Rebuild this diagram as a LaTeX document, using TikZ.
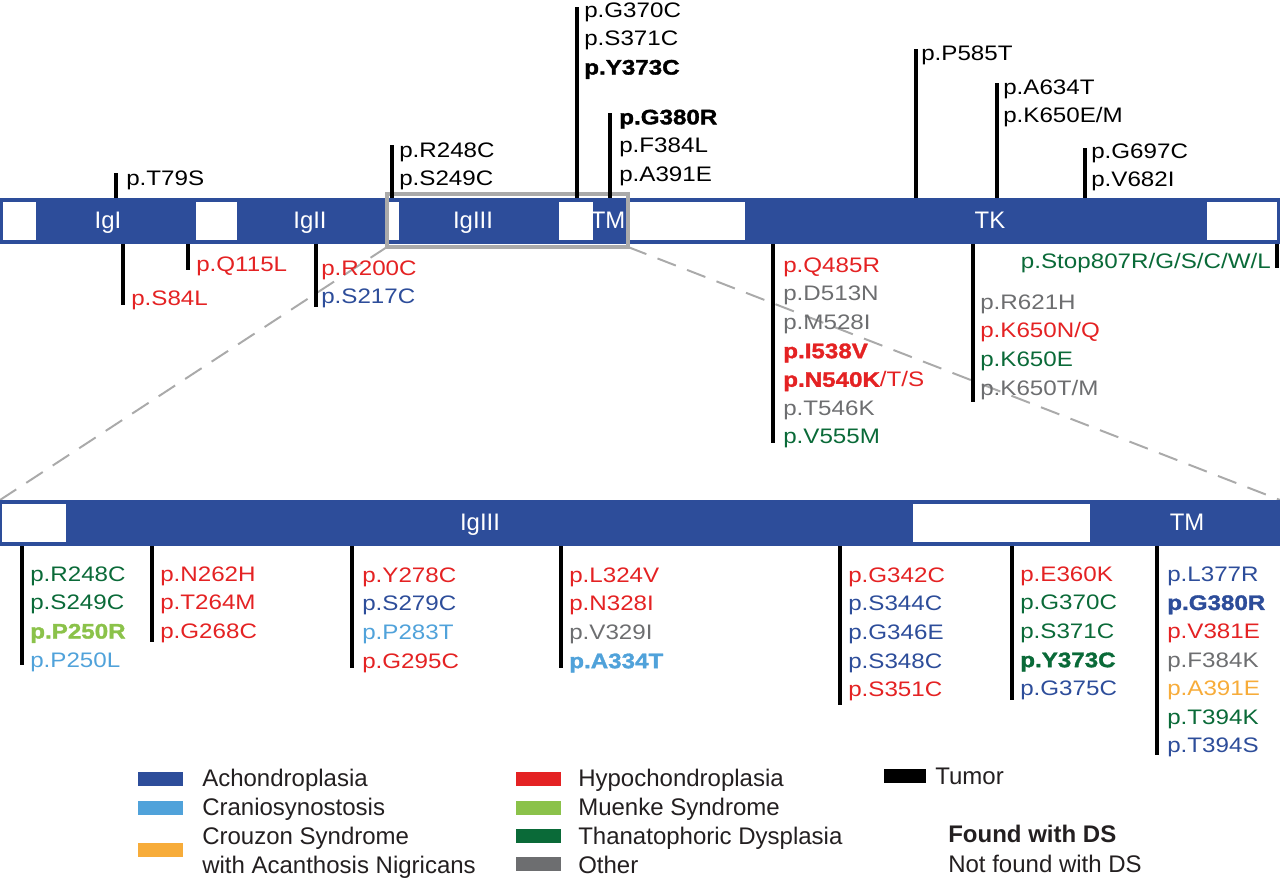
\documentclass[tikz,border=0pt]{standalone}
\usepackage{fontspec}
\setmainfont{Liberation Sans}
\newfontfamily\lblfam{Liberation Sans}[FakeStretch=1.15, BoldFeatures={FakeBold=1.5}]
\usepackage{xcolor}
\usepackage{tikz}

\definecolor{achon}{RGB}{45,77,154}
\definecolor{cranio}{RGB}{80,162,218}
\definecolor{crouzon}{RGB}{247,172,58}
\definecolor{hypoc}{RGB}{228,34,35}
\definecolor{muenke}{RGB}{139,194,74}
\definecolor{thana}{RGB}{10,106,56}
\definecolor{otherc}{RGB}{109,110,112}
\definecolor{zoomgray}{RGB}{170,170,170}
\definecolor{legtext}{RGB}{35,31,32}

\newcommand{\lblfont}{\lblfam\fontsize{14.94pt}{20.34pt}\selectfont}
\newcommand{\legfont}{\fontsize{17.07pt}{20.5pt}\selectfont}
\newcommand{\domfont}{\fontsize{17pt}{20pt}\selectfont}
\newcommand{\mAch}[1]{\textcolor{achon}{#1}}
\newcommand{\mCra}[1]{\textcolor{cranio}{#1}}
\newcommand{\mCrz}[1]{\textcolor{crouzon}{#1}}
\newcommand{\mHyp}[1]{\textcolor{hypoc}{#1}}
\newcommand{\mMue}[1]{\textcolor{muenke}{#1}}
\newcommand{\mTha}[1]{\textcolor{thana}{#1}}
\newcommand{\mOth}[1]{\textcolor{otherc}{#1}}

\begin{document}
\begin{tikzpicture}[
    x=0.025cm, y=-0.025cm,
    tick/.style={line width=2.2pt, black},
    lbl/.style={anchor=north west, inner sep=0pt, align=left, font=\lblfont},
    dom/.style={anchor=base, inner sep=0pt, text=white, font=\domfont},
    gap/.style={fill=white},
    zoomline/.style={draw=zoomgray, line width=1.4pt, dash pattern=on 14pt off 8.5pt},
    swatch/.style={fill=#1},
    leg/.style={anchor=base west, inner sep=0pt, font=\legfont, text=legtext}
]
\useasboundingbox (0,0) rectangle (1280,879);

% Full receptor bar
\fill[achon] (0,198) rectangle (1280,244);
\fill[gap] (3,202) rectangle (36,240);
\fill[gap] (196,202) rectangle (237,240);
\fill[gap] (387,202) rectangle (399,240);
\fill[gap] (559,202) rectangle (593,240);
\fill[gap] (630,202) rectangle (745,240);
\fill[gap] (1207,202) rectangle (1277,240);
\node[dom] (igI) at (108,229) {IgI};
\node[dom] (igII) at (310,229) {IgII};
\node[dom] (igIII) at (473,229) {IgIII};
\node[dom] (tm) at (608,229) {TM};
\node[dom] (tk) at (990,229) {TK};

% Zoom box and guide lines
\coordinate (zoomTL) at (387,194);
\coordinate (zoomBR) at (628,247);
\coordinate (zoomBL) at (387,247);
\coordinate (lowL) at (0,500);
\coordinate (lowR) at (1280,500);
\draw[zoomline] (zoomBL) -- (lowL);
\draw[zoomline] (zoomBR) -- (lowR);
\draw[zoomgray, line width=2.2pt] (zoomTL) rectangle (zoomBR);

% Mutations above the bar
\draw[tick] (116,198) -- (116,173);
\node[lbl] (t79) at (126,170.4) {p.T79S};
\draw[tick] (392,198) -- (392,145);
\node[lbl] (r248) at (399,142.4) {p.R248C\\p.S249C};
\draw[tick] (577,198) -- (577,7);
\node[lbl] (g370) at (584,2.4) {p.G370C\\p.S371C\\\textbf{p.Y373C}};
\draw[tick] (610,198) -- (610,113);
\node[lbl] (g380) at (619,109.4) {\textbf{p.G380R}\\p.F384L\\p.A391E};
\draw[tick] (916,198) -- (916,49);
\node[lbl] (p585) at (921,45.4) {p.P585T};
\draw[tick] (997,198) -- (997,83);
\node[lbl] (a634) at (1003,79.4) {p.A634T\\p.K650E/M};
\draw[tick] (1085,198) -- (1085,148);
\node[lbl] (g697) at (1091,143.4) {p.G697C\\p.V682I};

% Mutations below the bar
\draw[tick] (123,244) -- (123,305);
\node[lbl] (s84) at (131,290.4) {\mHyp{p.S84L}};
\draw[tick] (188,244) -- (188,270);
\node[lbl] (q115) at (196,256.4) {\mHyp{p.Q115L}};
\draw[tick] (316,244) -- (316,307);
\node[lbl] (r200) at (321,260.4) {\mHyp{p.R200C}\\\mAch{p.S217C}};
\draw[tick] (773,244) -- (773,443);
\node[lbl] (q485) at (783,257.4) {\mHyp{p.Q485R}\\\mOth{p.D513N}\\\mOth{p.M528I}\\\mHyp{\textbf{p.I538V}}\\\mHyp{\textbf{p.N540K}/T/S}\\\mOth{p.T546K}\\\mTha{p.V555M}};
\draw[tick] (973,244) -- (973,402);
\node[lbl] (r621) at (980,294.4) {\mOth{p.R621H}\\\mHyp{p.K650N/Q}\\\mTha{p.K650E}\\\mOth{p.K650T/M}};
\draw[tick] (1277,244) -- (1277,268);
\node[lbl, anchor=north east] (stop807) at (1271,253.4) {\mTha{p.Stop807R/G/S/C/W/L}};

% Enlarged IgIII-TM bar
\fill[achon] (0,500) rectangle (1280,546);
\fill[gap] (2,504) rectangle (66,542);
\fill[gap] (913,504) rectangle (1090,542);
\node[dom] (igIIIz) at (480,530) {IgIII};
\node[dom] (tmz) at (1187,530) {TM};

% Mutations in the enlarged region
\draw[tick] (22,546) -- (22,665);
\node[lbl] (zr248) at (30,566.4) {\mTha{p.R248C}\\\mTha{p.S249C}\\\mMue{\textbf{p.P250R}}\\\mCra{p.P250L}};
\draw[tick] (152,546) -- (152,642);
\node[lbl] (zn262) at (160,566.4) {\mHyp{p.N262H}\\\mHyp{p.T264M}\\\mHyp{p.G268C}};
\draw[tick] (352,546) -- (352,668);
\node[lbl] (zy278) at (362,567.4) {\mHyp{p.Y278C}\\\mAch{p.S279C}\\\mCra{p.P283T}\\\mHyp{p.G295C}};
\draw[tick] (561,546) -- (561,668);
\node[lbl] (zl324) at (569,567.4) {\mHyp{p.L324V}\\\mHyp{p.N328I}\\\mOth{p.V329I}\\\mCra{\textbf{p.A334T}}};
\draw[tick] (840,546) -- (840,705);
\node[lbl] (zg342) at (848,567.4) {\mHyp{p.G342C}\\\mAch{p.S344C}\\\mAch{p.G346E}\\\mAch{p.S348C}\\\mHyp{p.S351C}};
\draw[tick] (1012,546) -- (1012,700);
\node[lbl] (ze360) at (1020,566.4) {\mHyp{p.E360K}\\\mTha{p.G370C}\\\mTha{p.S371C}\\\mTha{\textbf{p.Y373C}}\\\mAch{p.G375C}};
\draw[tick] (1157,546) -- (1157,755);
\node[lbl] (zl377) at (1167,566.4) {\mAch{p.L377R}\\\mAch{\textbf{p.G380R}}\\\mHyp{p.V381E}\\\mOth{p.F384K}\\\mCrz{p.A391E}\\\mTha{p.T394K}\\\mAch{p.T394S}};

% Legend
\fill[swatch=achon] (138,772) rectangle (183,786);
\fill[swatch=cranio] (138,801) rectangle (183,815);
\fill[swatch=crouzon] (138,843) rectangle (183,857);
\node[leg] (lgAch) at (202,786) {Achondroplasia};
\node[leg] (lgCra) at (202,815) {Craniosynostosis};
\node[leg] (lgCrz) at (202,844.5) {Crouzon Syndrome};
\node[leg] (lgCrz2) at (202,873) {with Acanthosis Nigricans};
\fill[swatch=hypoc] (516,772) rectangle (561,786);
\fill[swatch=muenke] (516,801) rectangle (561,815);
\fill[swatch=thana] (516,829) rectangle (561,843);
\fill[swatch=otherc] (516,857) rectangle (561,871);
\node[leg] (lgHyp) at (578,786) {Hypochondroplasia};
\node[leg] (lgMue) at (578,815) {Muenke Syndrome};
\node[leg] (lgTha) at (578,844) {Thanatophoric Dysplasia};
\node[leg] (lgOth) at (578,873) {Other};
\fill[swatch=black] (884,769) rectangle (926,783);
\node[leg] (lgTum) at (935,784.5) {Tumor};
\node[leg, font=\legfont\bfseries] (lgFound) at (948,842.5) {Found with DS};
\node[leg] (lgNot) at (948,872.5) {Not found with DS};
\end{tikzpicture}
\end{document}
